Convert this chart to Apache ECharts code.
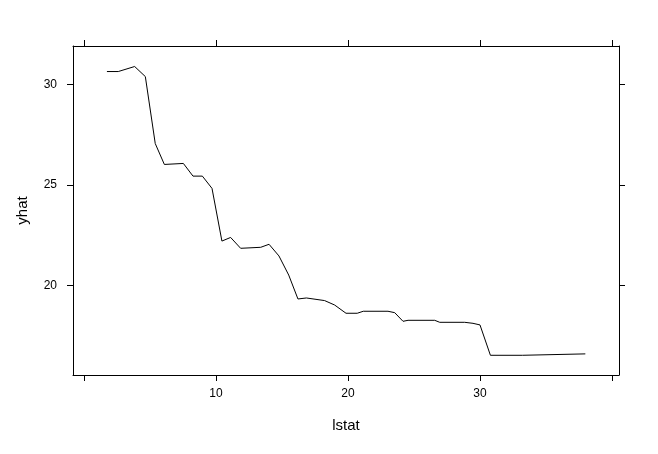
<!DOCTYPE html>
<html>
<head>
<meta charset="utf-8">
<script src="https://cdn.jsdelivr.net/npm/echarts@6/dist/echarts.min.js"></script>
<style>html,body{margin:0;padding:0;background:#fff}#c{width:658px;height:454px}</style>
</head>
<body>
<div id="c"></div>
<script>
var lstat = [1.74, 2.6, 3.84, 4.65, 5.4, 6.09, 7.53, 8.26, 8.97, 9.7, 10.45, 11.11, 11.87, 13.39, 14.02, 14.77, 15.51, 16.21, 16.85, 18.23, 18.99, 19.85, 20.7, 21.16, 23.03, 23.54, 24.17, 24.55, 26.57, 26.95, 28.84, 29.47, 30.0, 30.79, 33.21, 33.31, 37.98];
var yhat = [30.63, 30.63, 30.88, 30.38, 27.05, 26.01, 26.06, 25.43, 25.43, 24.82, 22.2, 22.38, 21.84, 21.89, 22.04, 21.46, 20.51, 19.32, 19.37, 19.24, 19.02, 18.61, 18.61, 18.71, 18.71, 18.64, 18.21, 18.26, 18.26, 18.16, 18.16, 18.11, 18.03, 16.52, 16.52, 16.59, 16.59];
var xTicks = [0, 10, 20, 30, 40];
var xLabels = [10, 20, 30];
var yTicks = [20, 25, 30];

var data = lstat.map(function (v, i) { return [v, yhat[i]]; });
var font = 'Liberation Sans, Arial, sans-serif';
var lineStyle = { color: '#000', width: 1 };

function xAxis(pos, labels) {
  return {
    type: 'value', position: pos, min: -0.83, max: 40.53,
    name: labels ? 'lstat' : '', nameLocation: 'middle', nameGap: 43,
    nameTextStyle: { color: '#000', fontSize: 15, fontFamily: font },
    axisLine: { show: true, onZero: false, lineStyle: lineStyle },
    axisTick: { show: true, inside: false, length: 6, lineStyle: lineStyle, customValues: xTicks },
    axisLabel: { show: labels, margin: 13, color: '#000', fontSize: 12, fontFamily: font, customValues: xLabels },
    splitLine: { show: false }
  };
}
function yAxis(pos, labels) {
  return {
    type: 'value', position: pos, min: 15.54, max: 31.9,
    name: labels ? 'yhat' : '', nameLocation: 'middle', nameGap: 43,
    nameTextStyle: { color: '#000', fontSize: 15, fontFamily: font },
    axisLine: { show: true, onZero: false, lineStyle: lineStyle },
    axisTick: { show: true, inside: false, length: 6, lineStyle: lineStyle, customValues: yTicks },
    axisLabel: { show: labels, margin: 16, color: '#000', fontSize: 12, fontFamily: font, customValues: yTicks },
    splitLine: { show: false }
  };
}

var chart = echarts.init(document.getElementById('c'), null, { renderer: 'canvas' });
chart.setOption({
  animation: false,
  backgroundColor: '#fff',
  grid: { left: 73, top: 46, width: 546, height: 329, containLabel: false },
  xAxis: [xAxis('bottom', true), xAxis('top', false)],
  yAxis: [yAxis('left', true), yAxis('right', false)],
  series: [{
    type: 'line', data: data, xAxisIndex: 0, yAxisIndex: 0,
    showSymbol: false, symbol: 'none', smooth: false,
    lineStyle: { color: '#000', width: 1 }
  }]
});
</script>
</body>
</html>
